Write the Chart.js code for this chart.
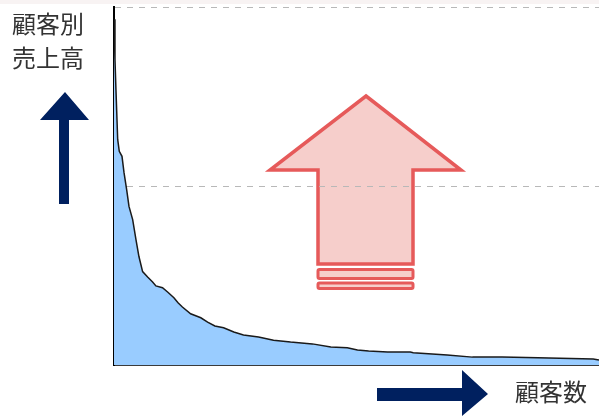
<!DOCTYPE html>
<html>
<head>
<meta charset="utf-8">
<script src="https://cdn.jsdelivr.net/npm/chart.js@4/dist/chart.umd.min.js"></script>
<style>
  html, body { margin: 0; padding: 0; background: #ffffff; }
  #wrap { position: relative; width: 599px; height: 418px; overflow: hidden; }
  #chartBox { position: absolute; left: 0; top: 0; width: 599px; height: 418px; z-index: 2; }
  #deco { position: absolute; left: 0; top: 0; z-index: 1; }
  #arrows { position: absolute; left: 0; top: 0; z-index: 3; }
  .lbl { position: absolute; z-index: 4; font-family: "Noto Sans CJK JP", "Noto Sans", sans-serif;
         font-size: 24px; color: #333333; line-height: 34px; white-space: nowrap; }
  #topband { position: absolute; left: 0; top: 0; width: 599px; height: 4px; background: #f8f3f3; z-index: 0; }
</style>
</head>
<body>
<div id="wrap">
  <div id="topband"></div>
  <svg id="deco" width="599" height="418">
    <!-- red "increase" arrow (behind the grid) -->
    <polygon points="366,96 461,170 413,170 413,264 318,264 318,170 270,170"
             fill="#f6cecb" stroke="#e65a5a" stroke-width="3.5" stroke-linejoin="miter"/>
    <rect x="318" y="269.5" width="95" height="9" rx="1.5" fill="#f6cecb" stroke="#e65a5a" stroke-width="3"/>
    <rect x="318" y="283" width="95" height="5.5" rx="1.5" fill="#f6cecb" stroke="#e65a5a" stroke-width="3"/>
  </svg>
  <div id="chartBox"><canvas id="c"></canvas></div>
  <svg id="arrows" width="599" height="418">
    <!-- navy up arrow -->
    <polygon points="65,92 89,120 69,120 69,204 59,204 59,120 40,120" fill="#00205f"/>
    <!-- navy right arrow -->
    <polygon points="377,388 462,388 462,370 488,394 462,416 462,401 377,401" fill="#00205f"/>
  </svg>
  <div class="lbl" style="left:12px; top:6px;">顧客別<br>売上高</div>
  <div class="lbl" style="left:515px; top:374px;">顧客数</div>
</div>
<script>
// customer rank (percent of customers, sorted by sales)
const customerRank = [0, 0.2, 0.4, 0.76, 1.09, 1.65, 2.06, 2.61, 3.09, 3.85, 4.53, 5.14, 5.9, 6.93, 7.96, 8.64, 10.0, 11.05, 12.35, 13.2, 14.1, 15.8, 17.9, 19.3, 20.8, 22.6, 24.7, 26.7, 29.8, 32.9, 36.4, 40.9, 44.7, 48.1, 50.2, 52.5, 56.4, 61.1, 61.7, 65.6, 68.7, 73.9, 80.0, 87.4, 98.8, 100];
// sales per customer (relative, axis max = 100)
const salesValue = [96.6, 85.4, 77.0, 63.0, 59.7, 58.3, 53.8, 49.0, 44.3, 40.6, 35.0, 30.3, 26.1, 24.6, 23.2, 22.1, 21.6, 20.4, 18.8, 17.4, 16.2, 14.3, 13.2, 12.0, 10.9, 10.4, 9.2, 8.4, 7.8, 6.9, 6.4, 5.9, 5.0, 4.8, 4.2, 3.9, 3.6, 3.6, 3.4, 3.1, 2.8, 2.2, 2.2, 2.0, 1.7, 1.4];
const yTicks = [0, 50, 100];

const points = customerRank.map((r, i) => ({ x: r, y: salesValue[i] }));

new Chart(document.getElementById('c'), {
  type: 'line',
  data: {
    datasets: [{
      data: points,
      borderColor: '#1a1a1a',
      borderWidth: 1.5,
      backgroundColor: '#99ccff',
      fill: 'origin',
      pointRadius: 0,
      tension: 0
    }]
  },
  options: {
    responsive: true,
    maintainAspectRatio: false,
    animation: false,
    layout: { padding: { left: 114, right: 0, top: 7, bottom: 53 } },
    plugins: { legend: { display: false }, tooltip: { enabled: false } },
    scales: {
      x: {
        type: 'linear', min: 0, max: 100,
        ticks: { display: false },
        grid: { display: false, drawTicks: false },
        border: { display: true, color: '#3a3a3a', width: 2 }
      },
      y: {
        min: 0, max: 100,
        afterBuildTicks: (s) => { s.ticks = yTicks.map(v => ({ value: v })); },
        ticks: { display: false },
        grid: { color: '#b8b8b8', lineWidth: 1, drawTicks: false },
        border: { display: true, color: '#000000', width: 2, dash: [6, 6] }
      }
    }
  }
});
</script>
</body>
</html>
